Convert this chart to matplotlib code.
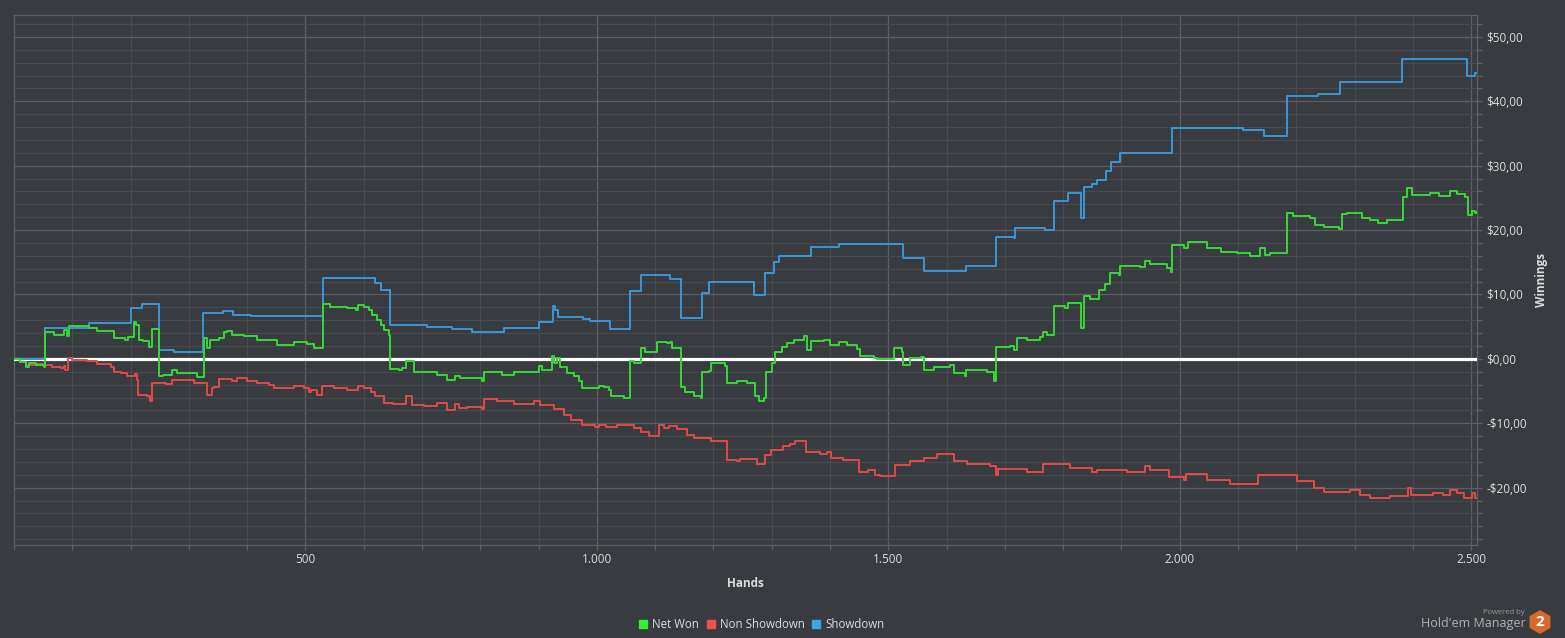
import matplotlib
matplotlib.use("Agg")
import matplotlib.pyplot as plt
from matplotlib.ticker import MultipleLocator, FixedLocator, FuncFormatter
from matplotlib.patches import RegularPolygon
from matplotlib.lines import Line2D

plt.rcParams['font.family'] = ['Open Sans', 'DejaVu Sans']

# ---------------- data (hand number where a value starts, cumulative $) ----------------
showdown_hands = [0, 54, 128, 201, 219, 248, 274, 325, 359, 375, 406, 530, 620, 629, 645,
                  709, 752, 786, 840, 900, 924, 929, 934, 977, 989, 1023, 1056, 1076, 1126,
                  1144, 1180, 1193, 1269, 1289, 1304, 1312, 1367, 1415, 1435, 1483, 1526,
                  1561, 1634, 1685, 1715, 1718, 1768, 1784, 1808, 1831, 1836, 1850, 1858,
                  1873, 1882, 1897, 1987, 2109, 2144, 2184, 2238, 2275, 2381, 2493, 2507, 2510]
showdown_vals = [0.0, 4.8, 5.5, 7.9, 8.5, 1.4, 1.1, 7.1, 7.5, 6.8, 6.6, 12.5, 11.8, 10.7, 5.3,
                 5.0, 4.6, 4.2, 4.8, 5.8, 8.2, 7.6, 6.5, 6.2, 5.9, 4.6, 10.6, 13.0, 12.4,
                 6.3, 10.3, 11.9, 9.9, 13.3, 15.1, 16.0, 17.4, 17.9, 17.8, 17.9, 15.6,
                 13.6, 14.5, 19.0, 18.7, 20.4, 20.0, 24.5, 25.7, 21.8, 26.7, 27.1, 27.8,
                 29.2, 30.6, 31.9, 35.9, 35.6, 34.6, 40.8, 41.2, 43.0, 46.5, 44.0, 44.4, 44.4]

netwon_hands = [0, 11, 20, 25, 37, 51, 54, 68, 85, 91, 94, 128, 143, 171, 191, 196, 206, 210,
                214, 222, 231, 237, 248, 256, 271, 280, 314, 326, 331, 337, 351, 360, 366,
                374, 394, 417, 434, 451, 480, 503, 514, 530, 543, 572, 586, 590, 600, 609,
                614, 623, 629, 634, 643, 645, 660, 666, 672, 686, 709, 726, 743, 757, 766,
                803, 807, 820, 837, 857, 900, 906, 923, 927, 931, 937, 949, 960, 969, 975,
                1003, 1012, 1020, 1024, 1040, 1046, 1056, 1063, 1076, 1083, 1103, 1120,
                1125, 1129, 1144, 1152, 1166, 1178, 1180, 1192, 1195, 1220, 1223, 1240,
                1258, 1272, 1278, 1286, 1291, 1300, 1306, 1318, 1326, 1338, 1355, 1361,
                1367, 1389, 1400, 1415, 1429, 1446, 1452, 1475, 1481, 1509, 1524, 1526,
                1538, 1556, 1561, 1578, 1606, 1612, 1632, 1634, 1669, 1681, 1685, 1709,
                1715, 1720, 1738, 1761, 1765, 1772, 1784, 1804, 1809, 1831, 1836, 1846,
                1861, 1872, 1881, 1895, 1898, 1932, 1941, 1949, 1978, 1985, 1987, 2007,
                2015, 2047, 2070, 2098, 2121, 2137, 2147, 2155, 2184, 2195, 2224, 2232,
                2247, 2274, 2278, 2287, 2312, 2326, 2341, 2355, 2383, 2390, 2398, 2430,
                2444, 2464, 2475, 2490, 2494, 2501, 2507, 2510]
netwon_vals = [0.0, -0.5, -1.2, -0.7, -0.9, -1.2, 4.2, 3.7, 4.5, 3.5, 5.1, 4.8, 4.4, 3.2, 2.9,
               3.4, 5.8, 5.3, 2.9, 2.8, 1.9, 4.6, -2.7, -2.5, -1.7, -2.2, -2.8, 3.2, 1.7, 2.9,
               3.2, 4.2, 4.4, 3.7, 3.6, 3.0, 2.9, 2.2, 2.7, 2.3, 1.7, 8.5, 8.1, 7.9, 7.6,
               8.4, 8.1, 7.6, 6.8, 6.0, 5.3, 4.5, 3.7, -1.6, -1.8, -1.4, -0.4, -2.0, -2.1,
               -2.5, -3.3, -2.7, -3.0, -3.4, -2.0, -2.1, -2.5, -2.1, -1.1, -1.7, 0.4, -0.7,
               0.1, -1.2, -2.2, -2.7, -3.5, -4.5, -4.2, -4.3, -4.8, -5.8, -5.7, -6.1, -0.4,
               -0.6, 1.7, 1.1, 2.7, 2.4, 2.7, 1.7, -4.3, -5.1, -5.7, -6.1, -2.0, -1.9,
               -0.7, -1.1, -3.8, -3.5, -3.7, -5.8, -6.6, -6.1, -2.0, -0.7, 1.1, 1.9, 2.5,
               3.0, 3.6, 1.4, 2.8, 2.9, 2.2, 2.7, 2.2, 1.5, 0.4, 0.1, 0.0, 1.7, 1.1, -0.9,
               0.1, 0.3, -1.7, -1.2, -0.9, -2.2, -2.7, -1.8, -2.1, -3.4, 1.9, 2.0, 1.4,
               3.2, 2.9, 3.4, 4.2, 3.7, 8.2, 7.9, 8.7, 4.8, 9.7, 9.3, 10.7, 11.7, 13.4,
               13.0, 14.4, 14.3, 15.2, 14.7, 14.1, 13.5, 17.7, 17.2, 18.2, 17.2, 16.6,
               16.4, 16.0, 17.2, 16.1, 16.4, 22.6, 22.2, 21.8, 20.8, 20.5, 20.1, 22.5,
               22.7, 21.8, 21.6, 21.1, 21.6, 25.2, 26.5, 25.4, 25.7, 25.3, 26.1, 25.6,
               25.2, 22.3, 23.0, 22.6, 22.8]

nonsd_hands = [0, 11, 20, 37, 54, 66, 80, 85, 88, 92, 100, 126, 143, 166, 171, 183, 194, 208,
               211, 213, 228, 233, 237, 260, 271, 308, 331, 340, 343, 351, 374, 383, 400,
               417, 437, 446, 480, 497, 506, 509, 520, 529, 549, 572, 590, 600, 612, 620,
               634, 651, 672, 683, 703, 726, 743, 757, 763, 777, 803, 807, 829, 857, 892,
               903, 926, 943, 955, 975, 997, 1003, 1015, 1035, 1063, 1075, 1089, 1106,
               1115, 1123, 1138, 1155, 1166, 1195, 1223, 1240, 1246, 1275, 1289, 1298,
               1320, 1332, 1340, 1359, 1383, 1395, 1401, 1423, 1449, 1466, 1478, 1486,
               1512, 1538, 1561, 1584, 1612, 1635, 1675, 1684, 1689, 1738, 1765, 1812,
               1849, 1858, 1909, 1941, 1949, 1981, 2007, 2010, 2047, 2087, 2135, 2201,
               2230, 2247, 2292, 2310, 2326, 2361, 2391, 2396, 2435, 2452, 2464, 2475,
               2487, 2501, 2507, 2510]
nonsd_vals = [0.0, -0.5, -1.0, -0.8, -0.9, -1.2, -1.4, -1.1, -1.7, 0.1, -0.2, -0.4, -0.8,
              -1.3, -2.0, -2.2, -2.6, -2.3, -3.3, -5.6, -5.7, -6.5, -3.8, -3.9, -3.3, -3.7,
              -5.6, -4.5, -4.3, -3.1, -3.5, -3.0, -3.4, -3.7, -4.0, -4.5, -4.2, -4.5, -5.1,
              -4.9, -5.6, -4.2, -4.5, -4.9, -4.2, -4.5, -5.2, -5.8, -6.8, -7.0, -5.8, -7.1,
              -7.3, -6.9, -8.0, -7.0, -7.6, -7.4, -7.8, -6.2, -6.6, -7.0, -6.6, -7.1, -7.8,
              -8.7, -9.5, -10.2, -10.6, -10.2, -10.6, -10.2, -10.7, -11.3, -11.9, -10.2,
              -10.7, -10.4, -10.9, -11.8, -12.3, -12.7, -15.7, -15.9, -15.6, -16.3, -15.0,
              -14.1, -13.6, -13.2, -12.8, -14.5, -14.7, -14.5, -15.4, -15.7, -17.5, -17.2,
              -18.0, -18.2, -16.4, -15.8, -15.4, -14.7, -15.9, -16.3, -16.6, -18.0, -17.1,
              -17.5, -16.3, -17.0, -17.6, -17.3, -17.6, -16.7, -17.2, -18.3, -18.8, -17.8,
              -18.8, -19.5, -18.1, -19.0, -20.0, -20.6, -20.4, -21.1, -21.6, -21.3, -20.0,
              -21.1, -20.8, -21.2, -20.4, -20.9, -21.6, -20.9, -21.6, -21.6]

x_major_ticks = [500, 1000, 1500, 2000, 2500]
y_major_ticks = [-20, -10, 0, 10, 20, 30, 40, 50]
series_labels = ["Net Won", "Non Showdown", "Showdown"]

# ---------------- style ----------------
BG = "#383b3f"
GRID_MAJOR = "#5c5f63"
GRID_MINOR = "#474a4e"
TEXT = "#dcdcdc"
C_NET = "#35d835"
C_NSD = "#e04a4a"
C_SD = "#3a97d6"

fig = plt.figure(figsize=(15.65, 6.38), dpi=100, facecolor=BG)
ax = fig.add_axes([14 / 1565, 1 - 545 / 638, (1477 - 14) / 1565, (545 - 15) / 638])
ax.set_facecolor(BG)

ax.set_xlim(0, 2510)
ax.set_ylim(-28.9, 53.4)

ax.xaxis.set_major_locator(FixedLocator(x_major_ticks))
ax.xaxis.set_minor_locator(MultipleLocator(100))
ax.yaxis.set_major_locator(FixedLocator(y_major_ticks))
ax.yaxis.set_minor_locator(MultipleLocator(2))

ax.grid(which='major', color=GRID_MAJOR, linewidth=0.9)
ax.grid(which='minor', color=GRID_MINOR, linewidth=0.9)
ax.set_axisbelow(True)

ax.yaxis.tick_right()
ax.yaxis.set_label_position("right")
ax.tick_params(axis='both', which='both', colors=GRID_MAJOR, length=3.8, width=0.9)
ax.tick_params(axis='both', which='major', labelcolor=TEXT, labelsize=8.5)
ax.tick_params(axis='y', which='major', pad=3)
ax.tick_params(axis='x', which='major', pad=2)


def fmt_x(v, pos):
    return f"{int(v):,}".replace(",", ".")


def fmt_y(v, pos):
    s = f"${abs(v):.2f}".replace(".", ",")
    return ("-" + s) if v < 0 else s


ax.xaxis.set_major_formatter(FuncFormatter(fmt_x))
ax.yaxis.set_major_formatter(FuncFormatter(fmt_y))

for sp in ax.spines.values():
    sp.set_color(GRID_MAJOR)
    sp.set_linewidth(0.9)

ax.set_xlabel("Hands", color=TEXT, fontsize=8.5, fontweight='bold', labelpad=8)
ax.set_ylabel("Winnings", color=TEXT, fontsize=8.5, fontweight='bold', labelpad=6)

# zero line
ax.axhline(0, color="white", linewidth=2.3, zorder=3)

ax.plot(showdown_hands, showdown_vals, drawstyle='steps-post', color=C_SD, lw=1.4, zorder=4)
ax.plot(nonsd_hands, nonsd_vals, drawstyle='steps-post', color=C_NSD, lw=1.4, zorder=4)
ax.plot(netwon_hands, netwon_vals, drawstyle='steps-post', color=C_NET, lw=1.4, zorder=5)

# legend
handles = [Line2D([], [], marker='s', linestyle='none', markersize=5.5, color=c)
           for c in ["#33f033", "#f05050", "#3aa8e8"]]
leg = fig.legend(handles, series_labels, loc='center', bbox_to_anchor=(761 / 1565, 1 - 625 / 638),
                 ncol=3, frameon=False, fontsize=8.3, handletextpad=0.3, columnspacing=0.5,
                 handlelength=1.0)
for t in leg.get_texts():
    t.set_color(TEXT)

# branding
fig.text(1525 / 1565, 1 - 612 / 638, "Powered by", color="#9a9a9a", fontsize=5.5,
         ha='right', va='center')
fig.text(1526 / 1565, 1 - 624 / 638, "Hold'em Manager", color="#b0b0b0", fontsize=9,
         ha='right', va='center')
hexa = RegularPolygon((1540, 638 - 622), numVertices=6, radius=12, orientation=0,
                      facecolor="#d9692a", edgecolor="none", transform=None)
fig.patches.append(hexa)
fig.text(1540 / 1565, 1 - 622 / 638, "2", color="white", fontsize=11, fontweight='bold',
         ha='center', va='center')

fig.savefig("out.png", dpi=100, facecolor=BG)
